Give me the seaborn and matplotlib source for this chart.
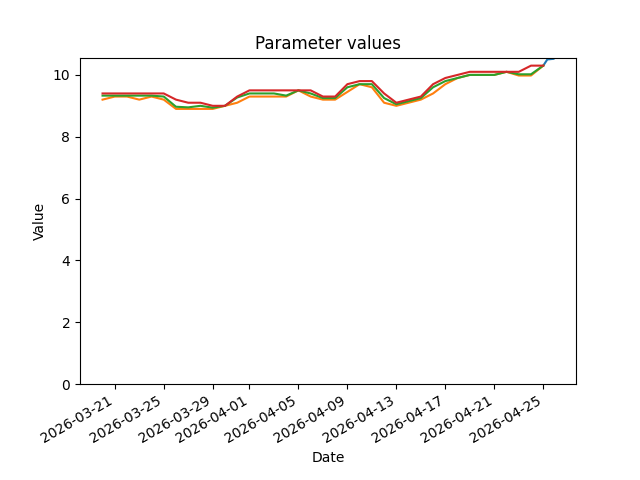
import matplotlib
matplotlib.use("Agg")
import matplotlib.pyplot as plt
import seaborn as sns
import pandas as pd

# Daily dates for the three full series
dates = pd.date_range("2026-03-20", periods=37, freq="D")

# Blue series: only a short recent segment
blue_dates = pd.to_datetime(["2026-04-25 00:00", "2026-04-25 08:00", "2026-04-25 20:00"])
blue_vals = [10.3, 10.5, 10.52]

orange_vals = [9.2, 9.3, 9.3, 9.2, 9.3, 9.2, 8.9, 8.9, 8.9, 8.9, 9.0, 9.1, 9.3,
               9.3, 9.3, 9.3, 9.5, 9.3, 9.2, 9.2, 9.45, 9.7, 9.6, 9.1, 9.0, 9.1,
               9.2, 9.4, 9.7, 9.9, 10.0, 10.0, 10.0, 10.1, 9.98, 9.98, 10.3]
green_vals = [9.33, 9.33, 9.33, 9.33, 9.33, 9.3, 8.97, 8.95, 9.0, 8.94, 9.0, 9.27, 9.4,
              9.4, 9.4, 9.33, 9.5, 9.4, 9.25, 9.25, 9.6, 9.7, 9.7, 9.25, 9.05, 9.15,
              9.25, 9.6, 9.8, 9.9, 10.0, 10.0, 10.0, 10.1, 10.02, 10.02, 10.3]
red_vals = [9.4, 9.4, 9.4, 9.4, 9.4, 9.4, 9.2, 9.1, 9.1, 9.0, 9.0, 9.3, 9.5,
            9.5, 9.5, 9.5, 9.5, 9.5, 9.3, 9.3, 9.7, 9.8, 9.8, 9.4, 9.1, 9.2,
            9.3, 9.7, 9.9, 10.0, 10.1, 10.1, 10.1, 10.1, 10.1, 10.3, 10.3]

series_names = ["A", "B", "C", "D"]
colors = ["#1f77b4", "#ff7f0e", "#2ca02c", "#d62728"]

frames = [
    pd.DataFrame({"Date": blue_dates, "Value": blue_vals, "Parameter": series_names[0]}),
    pd.DataFrame({"Date": dates, "Value": orange_vals, "Parameter": series_names[1]}),
    pd.DataFrame({"Date": dates, "Value": green_vals, "Parameter": series_names[2]}),
    pd.DataFrame({"Date": dates, "Value": red_vals, "Parameter": series_names[3]}),
]
df = pd.concat(frames, ignore_index=True)

fig, ax = plt.subplots(figsize=(6.4, 4.8), dpi=100)
sns.lineplot(data=df, x="Date", y="Value", hue="Parameter", hue_order=series_names,
             palette=colors, legend=False, ax=ax, linewidth=1.5)
ax.set_ylim(0, 10.56)
ax.set_title("Parameter values")
ax.set_xlabel("Date")
ax.set_ylabel("Value")
fig.autofmt_xdate()
fig.savefig("out.png", dpi=100)
